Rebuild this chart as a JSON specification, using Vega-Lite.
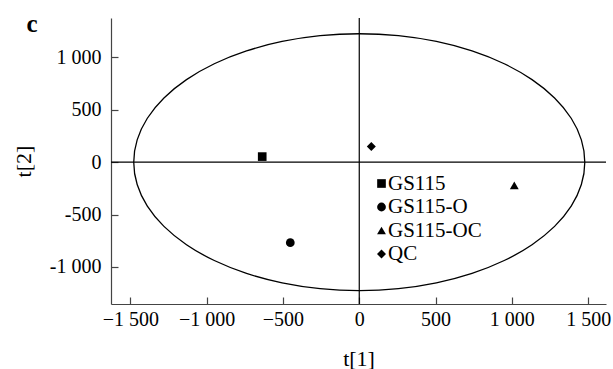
{
  "$schema": "https://vega.github.io/schema/vega-lite/v6.json",
  "width": 495,
  "height": 286,
  "autosize": {"type": "none"},
  "padding": {"left": 111, "top": 18, "right": 7, "bottom": 65},
  "background": "white",
  "config": {
    "view": {"stroke": null},
    "font": "Liberation Serif",
    "axis": {"grid": false, "domainColor": "#444444", "tickColor": "#444444", "domainWidth": 1.2, "tickWidth": 1.2, "tickSize": -7, "labelFont": "Liberation Serif", "labelFontSize": 20, "labelColor": "black", "titleFont": "Liberation Serif", "titleFontSize": 22, "titleFontWeight": "normal", "titleColor": "black"}
  },
  "datasets": {
    "ellipse": [
      {"o": 0, "x": 1478, "y": 0},
      {"o": 1, "x": 1455.5, "y": 212.7},
      {"o": 2, "x": 1388.9, "y": 419.0},
      {"o": 3, "x": 1280.0, "y": 612.5},
      {"o": 4, "x": 1132.2, "y": 787.4},
      {"o": 5, "x": 950.1, "y": 938.4},
      {"o": 6, "x": 739.0, "y": 1060.9},
      {"o": 7, "x": 505.5, "y": 1151.1},
      {"o": 8, "x": 256.6, "y": 1206.4},
      {"o": 9, "x": 0, "y": 1225},
      {"o": 10, "x": -256.6, "y": 1206.4},
      {"o": 11, "x": -505.5, "y": 1151.1},
      {"o": 12, "x": -739.0, "y": 1060.9},
      {"o": 13, "x": -950.1, "y": 938.4},
      {"o": 14, "x": -1132.2, "y": 787.4},
      {"o": 15, "x": -1280.0, "y": 612.5},
      {"o": 16, "x": -1388.9, "y": 419.0},
      {"o": 17, "x": -1455.5, "y": 212.7},
      {"o": 18, "x": -1478, "y": 0},
      {"o": 19, "x": -1455.5, "y": -212.7},
      {"o": 20, "x": -1388.9, "y": -419.0},
      {"o": 21, "x": -1280.0, "y": -612.5},
      {"o": 22, "x": -1132.2, "y": -787.4},
      {"o": 23, "x": -950.1, "y": -938.4},
      {"o": 24, "x": -739.0, "y": -1060.9},
      {"o": 25, "x": -505.5, "y": -1151.1},
      {"o": 26, "x": -256.6, "y": -1206.4},
      {"o": 27, "x": 0, "y": -1225},
      {"o": 28, "x": 256.6, "y": -1206.4},
      {"o": 29, "x": 505.5, "y": -1151.1},
      {"o": 30, "x": 739.0, "y": -1060.9},
      {"o": 31, "x": 950.1, "y": -938.4},
      {"o": 32, "x": 1132.2, "y": -787.4},
      {"o": 33, "x": 1280.0, "y": -612.5},
      {"o": 34, "x": 1388.9, "y": -419.0},
      {"o": 35, "x": 1455.5, "y": -212.7}
    ],
    "points": [
      {"group": "GS115", "x": -636, "y": 53},
      {"group": "GS115-O", "x": -452, "y": -768},
      {"group": "GS115-OC", "x": 1016, "y": -222},
      {"group": "QC", "x": 79, "y": 149}
    ],
    "panel": [
      {"label": "c", "x": -2144, "y": 1245}
    ]
  },
  "layer": [
    {
      "data": {"name": "ellipse"},
      "mark": {"type": "line", "interpolate": "cardinal-closed", "color": "black", "strokeWidth": 1.3},
      "encoding": {
        "x": {"field": "x", "type": "quantitative", "scale": {"domain": [-1627, 1617], "nice": false, "zero": false},
              "axis": {"values": [-1500, -1000, -500, 0, 500, 1000, 1500], "labelExpr": "replace(format(datum.value, ','), ',', ' ')", "title": "t[1]", "labelPadding": 12, "titlePadding": 19}},
        "y": {"field": "y", "type": "quantitative", "scale": {"domain": [-1353, 1375], "nice": false, "zero": false},
              "axis": {"values": [-1000, -500, 0, 500, 1000], "labelExpr": "replace(replace(format(datum.value, ','), ',', ' '), '−', '-')", "title": "t[2]", "labelPadding": 17, "titlePadding": 14}},
        "order": {"field": "o", "type": "quantitative"}
      }
    },
    {
      "data": {"values": [{}]},
      "mark": {"type": "rule", "color": "black", "strokeWidth": 1.2},
      "encoding": {"y": {"datum": 0}}
    },
    {
      "data": {"values": [{}]},
      "mark": {"type": "rule", "color": "black", "strokeWidth": 1.2},
      "encoding": {"x": {"datum": 0}}
    },
    {
      "data": {"name": "panel"},
      "mark": {"type": "text", "font": "Liberation Serif", "fontSize": 25, "fontWeight": "bold", "color": "black", "align": "center", "baseline": "alphabetic"},
      "encoding": {
        "x": {"field": "x", "type": "quantitative"},
        "y": {"field": "y", "type": "quantitative"},
        "text": {"field": "label"}
      }
    },
    {
      "data": {"name": "points"},
      "mark": {"type": "point", "filled": true, "color": "black", "opacity": 1},
      "encoding": {
        "x": {"field": "x", "type": "quantitative"},
        "y": {"field": "y", "type": "quantitative"},
        "shape": {"field": "group", "type": "nominal",
                  "scale": {"domain": ["GS115", "GS115-O", "GS115-OC", "QC"], "range": ["square", "circle", "triangle-up", "diamond"]},
                  "legend": {"title": null, "orient": "none", "legendX": 260, "legendY": 155, "padding": 0, "labelFont": "Liberation Serif", "labelFontSize": 21, "labelColor": "black", "labelOffset": -4, "rowPadding": 1.5, "symbolFillColor": "black", "symbolStrokeWidth": 0, "symbolOpacity": 1}},
        "size": {"field": "group", "type": "nominal",
                 "scale": {"domain": ["GS115", "GS115-O", "GS115-OC", "QC"], "range": [75, 80, 175, 85]},
                 "legend": {"title": null, "orient": "none", "legendX": 260, "legendY": 155, "padding": 0, "labelFont": "Liberation Serif", "labelFontSize": 21, "labelColor": "black", "labelOffset": -4, "rowPadding": 1.5, "symbolFillColor": "black", "symbolStrokeWidth": 0, "symbolOpacity": 1}}
      }
    }
  ]
}
